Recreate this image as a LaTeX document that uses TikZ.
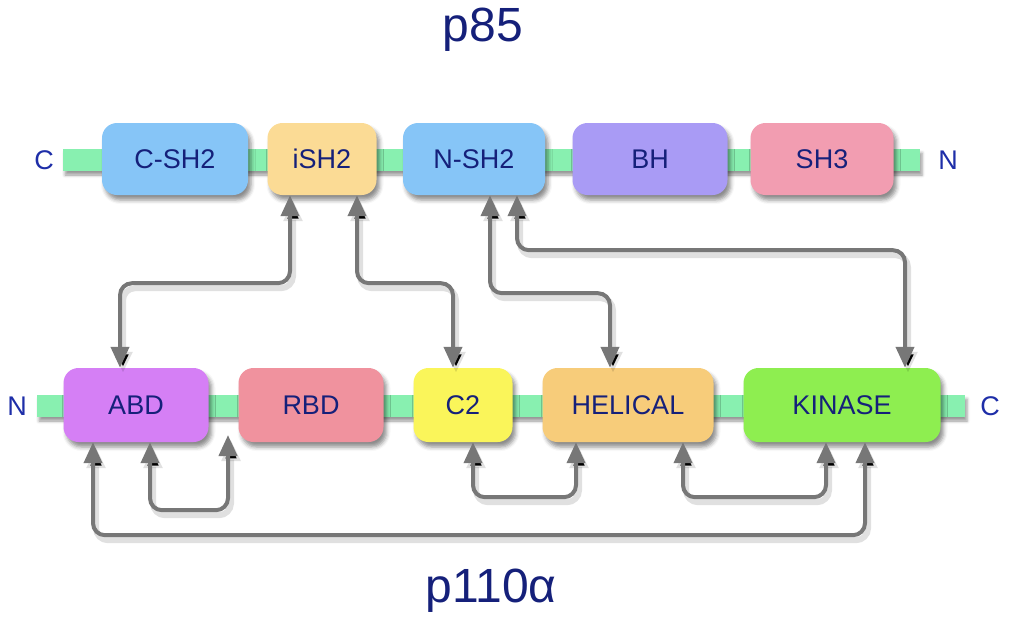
\documentclass[tikz,border=0pt]{standalone}
\usepackage{fontspec}
\setmainfont{Liberation Sans}
\usetikzlibrary{arrows.meta,shadows.blur}
\definecolor{barg}{HTML}{88F0B0}
\definecolor{cblue}{HTML}{86C5F7}
\definecolor{cish}{HTML}{FBDB95}
\definecolor{cbh}{HTML}{A99BF5}
\definecolor{csh3}{HTML}{F29DB1}
\definecolor{cabd}{HTML}{D57FF5}
\definecolor{crbd}{HTML}{F0929E}
\definecolor{cctwo}{HTML}{FAF55A}
\definecolor{chel}{HTML}{F7CC7A}
\definecolor{ckin}{HTML}{8EEE50}
\definecolor{txt}{HTML}{15207A}
\definecolor{endtxt}{HTML}{1E2EA8}
\definecolor{arrc}{HTML}{777777}
\tikzset{
  dom/.style={rounded corners=15pt, minimum height=72pt, inner sep=0pt,
    text=txt, font=\fontsize{27}{30}\selectfont,
    blur shadow={shadow xshift=3pt, shadow yshift=-5pt, shadow blur radius=4pt, shadow opacity=45}},
  bar/.style={fill=barg, draw=none,
    blur shadow={shadow xshift=2pt, shadow yshift=-4pt, shadow blur radius=3pt, shadow opacity=40}},
  endlbl/.style={text=endtxt, font=\fontsize{27}{30}\selectfont},
  ttl/.style={text=txt, font=\fontsize{48}{52}\selectfont},
  dbl/.style={draw=arrc, line width=4pt, rounded corners=12pt,
    {Triangle[length=21pt,width=18pt]}-{Triangle[length=21pt,width=18pt]},
    preaction={draw=black, draw opacity=0.12, line width=6pt,
      transform canvas={shift={(3pt,-5pt)}}}},
}
\begin{document}
\begin{tikzpicture}[x=1pt,y=-1pt]
\useasboundingbox (0,0) rectangle (1009,622);
% bars
\path[bar] (63,149) rectangle (920,171);
\path[bar] (37,395) rectangle (965,417);
% titles
\node[ttl] (t85) at (483,30) {p85};
\node[ttl] (t110) at (491,591) {p110α};
% end labels
\node[endlbl] (tc) at (44,160) {C};
\node[endlbl] (tn) at (948,160) {N};
\node[endlbl] (bn) at (17,406) {N};
\node[endlbl] (bc) at (990,406) {C};
% top domains
\node[dom, fill=cblue, minimum width=146pt] (csh) at (175,159) {C-SH2};
\node[dom, fill=cish,  minimum width=109pt] (ish) at (322,159) {iSH2};
\node[dom, fill=cblue, minimum width=142pt] (nsh) at (474,159) {N-SH2};
\node[dom, fill=cbh,   minimum width=155pt] (bh)  at (650,159) {BH};
\node[dom, fill=csh3,  minimum width=143pt] (sh3) at (822,159) {SH3};
% bottom domains
\node[dom, fill=cabd,  minimum width=145pt, minimum height=74pt] (abd) at (136,405) {ABD};
\node[dom, fill=crbd,  minimum width=145pt, minimum height=74pt] (rbd) at (311,405) {RBD};
\node[dom, fill=cctwo, minimum width=99pt,  minimum height=74pt] (c2)  at (463,405) {C2};
\node[dom, fill=chel,  minimum width=171pt, minimum height=74pt] (hel) at (628,405) {HELICAL};
\node[dom, fill=ckin,  minimum width=197pt, minimum height=74pt] (kin) at (842,405) {KINASE};
\coordinate (lnk) at (228,435);
% p85 - p110 arrows
\draw[dbl] ([xshift=-32pt]ish.south) -- ++(0,88) -| ([xshift=-16pt]abd.north);
\draw[dbl] ([xshift=35pt]ish.south) -- ++(0,88) -| ([xshift=-10pt]c2.north);
\draw[dbl] ([xshift=16pt]nsh.south) -- ++(0,98) -| ([xshift=-18pt]hel.north);
\draw[dbl] ([xshift=43pt]nsh.south) -- ++(0,55) -| ([xshift=63pt]kin.north);
% p110 internal arrows
\draw[dbl] ([xshift=14pt]abd.south) -- ++(0,68) -| (lnk);
\draw[dbl] ([xshift=-43pt]abd.south) -- ++(0,93) -| ([xshift=23pt]kin.south);
\draw[dbl] ([xshift=10pt]c2.south) -- ++(0,55) -| ([xshift=-52pt]hel.south);
\draw[dbl] ([xshift=55pt]hel.south) -- ++(0,55) -| ([xshift=-16pt]kin.south);
\end{tikzpicture}
\end{document}
